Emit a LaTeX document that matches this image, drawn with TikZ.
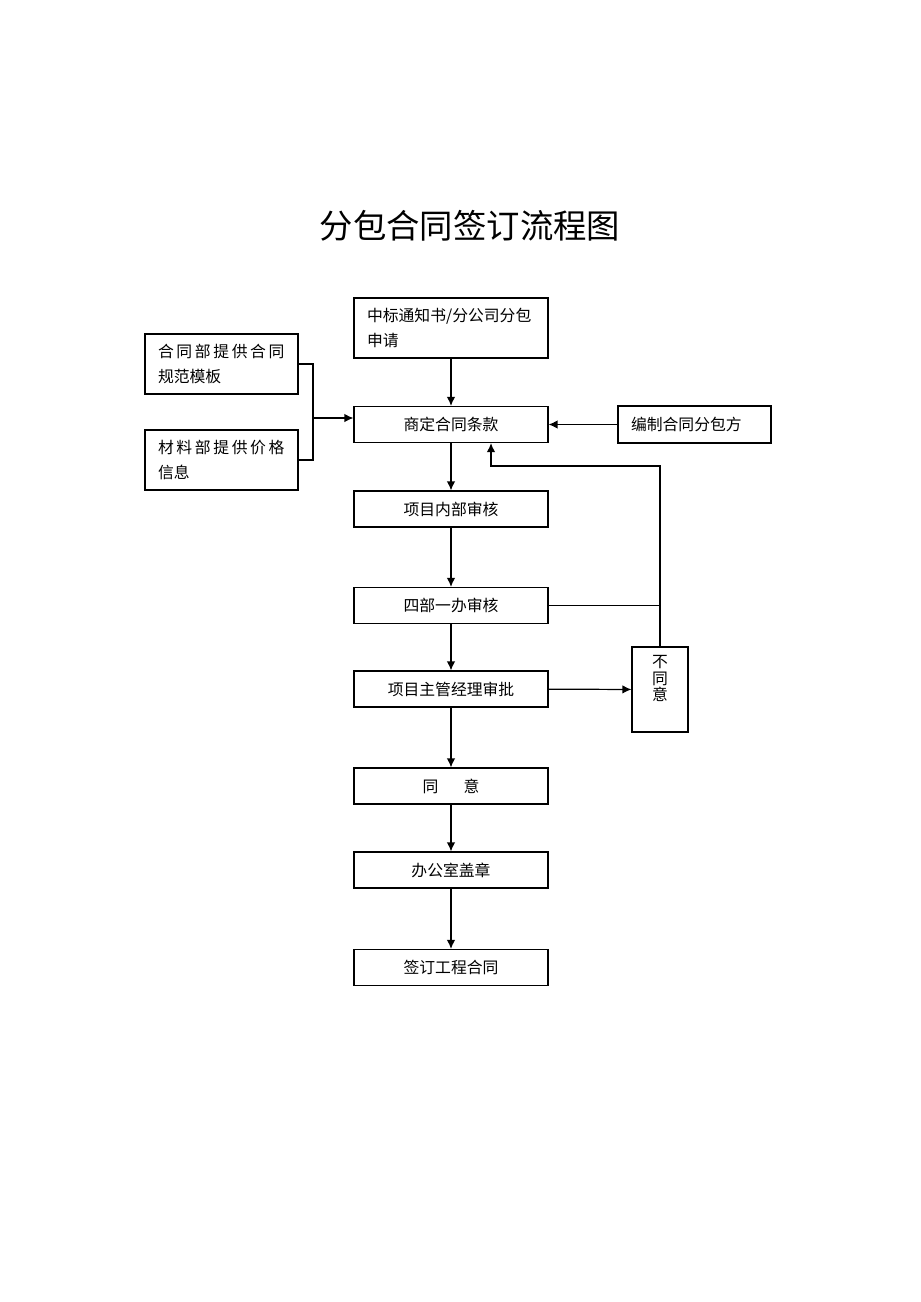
\documentclass[tikz,border=0pt]{standalone}
\usepackage{fontspec}
\setmainfont{Noto Sans CJK SC}
\usetikzlibrary{positioning,arrows.meta}

\begin{document}
\begin{tikzpicture}[x=0.02cm, y=-0.02cm, line width=0.7pt, >={Latex[length=1.8mm,width=1.7mm]},
    box/.style={draw, minimum width=3.88cm, minimum height=0.72cm, font=\fontsize{9pt}{14pt}\selectfont},
    sidebox/.style={draw, minimum width=3.06cm, minimum height=1.2cm, text width=2.54cm, inner xsep=0.26cm, align=left, font=\fontsize{9pt}{14pt}\selectfont},
    arr/.style={->}]
        \useasboundingbox (0,0) rectangle (920,1302);

        \node [font=\fontsize{19pt}{22pt}\selectfont] (title) at (470,226) {分包合同签订流程图};

        \node [box, minimum height=1.2cm, text width=3.36cm, inner xsep=0.26cm, align=left] (apply) at (451,328) {中标通知书/分公司分包\\申请};
        \node [box] (terms) at (451,424.5) {商定合同条款};
        \node [box] (review1) at (451,509) {项目内部审核};
        \node [box] (review4) at (451,605.5) {四部一办审核};
        \node [box] (approve) at (451,689) {项目主管经理审批};
        \node [box] (agree) at (451,786) {同\hspace{1.6em}意};
        \node [box] (seal) at (451,870) {办公室盖章};
        \node [box] (sign) at (451,967.5) {签订工程合同};

        \node [sidebox] (tmpl) at (221.5,364) {合\,同\,部\,提\,供\,合\,同\\规范模板};
        \node [sidebox] (price) at (221.5,460) {材\,料\,部\,提\,供\,价\,格\\信息};
        \node [sidebox, minimum height=0.74cm] (subc) at (694.5,424.5) {编制合同分包方};
        \node [draw, minimum width=1.12cm, minimum height=1.7cm] (disagree) at (660,689.5) {};
        \node [below=4pt of disagree.north, align=center, inner sep=1pt, font=\fontsize{9pt}{9.2pt}\selectfont] (disagreetxt) {不\\同\\意};

        \coordinate (join) at (313,418);
        \coordinate (fbturn) at (491,466);

        \draw [arr] (apply) -- (terms);
        \draw [arr] (terms) -- (review1);
        \draw [arr] (review1) -- (review4);
        \draw [arr] (review4) -- (approve);
        \draw [arr] (approve) -- (agree);
        \draw [arr] (agree) -- (seal);
        \draw [arr] (seal) -- (sign);

        \draw (tmpl.east) -| (join);
        \draw (price.east) -| (join);
        \draw [arr] (join) -- (terms.west |- join);
        \draw [arr] (subc) -- (terms);

        \draw [arr] (approve) -- (disagree);
        \draw (review4.east) -- (review4.east -| disagree.north);
        \draw [arr] (disagree.north) -- (disagree.north |- fbturn) -- (fbturn) -- (fbturn |- terms.south);
\end{tikzpicture}
\end{document}
